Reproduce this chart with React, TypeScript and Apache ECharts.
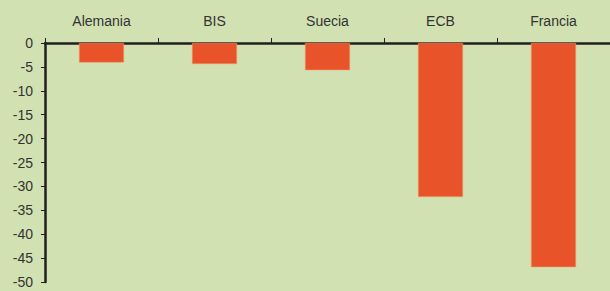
import React, { useEffect, useRef } from "react";
import * as echarts from "echarts";

const categories = ["Alemania", "BIS", "Suecia", "ECB", "Francia"];
const values = [-4.1, -4.4, -5.7, -32.2, -46.9];

export default function App() {
  const ref = useRef<HTMLDivElement>(null);
  useEffect(() => {
    if (!ref.current) return;
    const chart = echarts.init(ref.current, undefined, { renderer: "svg" });
    chart.setOption({
      animation: false,
      backgroundColor: "#D1E1B1",
      grid: { left: 45, right: 0, top: 43, bottom: 9 },
      xAxis: {
        type: "category",
        data: categories,
        position: "top",
        axisLine: { show: true, lineStyle: { color: "#231F20", width: 2.5 } },
        axisTick: { show: true, length: 5, lineStyle: { color: "#231F20", width: 1 } },
        axisLabel: { color: "#333333", fontSize: 14, fontFamily: "Liberation Sans, Arial, sans-serif", margin: 15 },
      },
      yAxis: {
        type: "value",
        min: -50,
        max: 0,
        interval: 5,
        axisLine: { show: true, lineStyle: { color: "#231F20", width: 2.5 } },
        axisTick: { show: true, length: 4, lineStyle: { color: "#231F20", width: 1 } },
        axisLabel: { color: "#333333", fontSize: 14, fontFamily: "Liberation Sans, Arial, sans-serif", margin: 12 },
        splitLine: { show: false },
      },
      series: [
        {
          type: "bar",
          data: values,
          barWidth: 45,
          itemStyle: { color: "#E9532A", borderColor: "#F0A070", borderWidth: 0.5 },
        },
      ],
    });
    return () => chart.dispose();
  }, []);
  return <div ref={ref} style={{ width: 610, height: 291, position: "absolute", left: 0, top: 0 }} />;
}
